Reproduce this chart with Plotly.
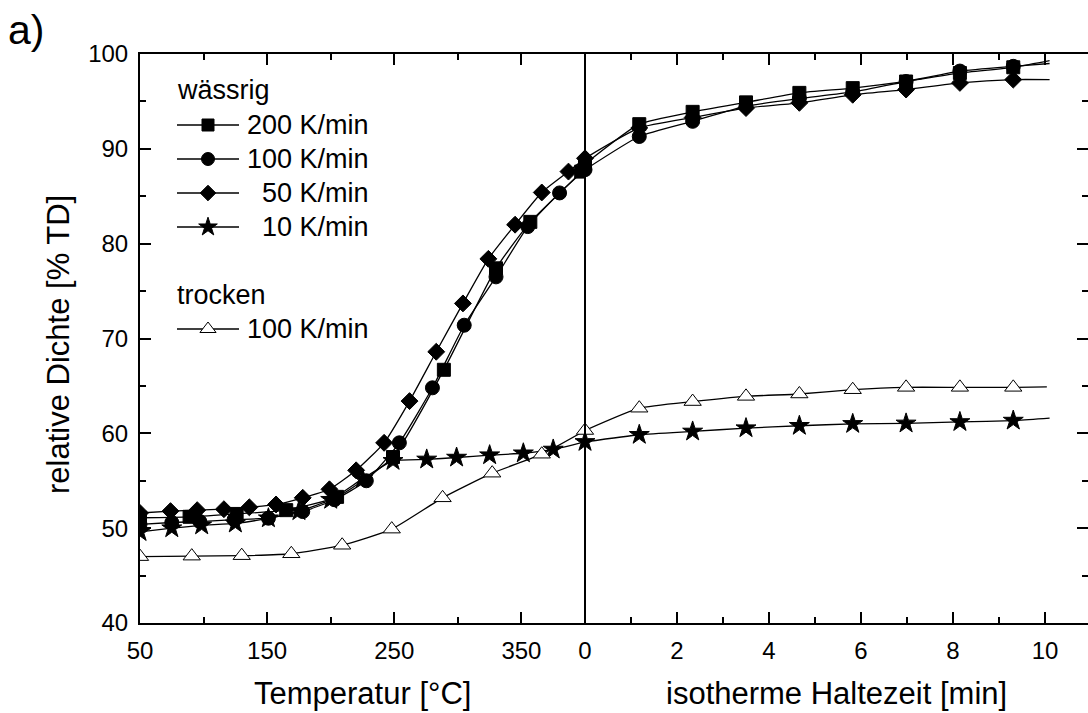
import plotly.graph_objects as go

# ---------------- data ----------------
# Heating segment: temperature in °C ; isothermal segment: holding time in min
# wässrig 200 K/min (squares)
T_200 = [50, 89, 126, 165, 205, 249, 289, 330, 357, 397, 400]
D_200 = [51.1, 51.2, 51.5, 51.9, 53.3, 57.5, 66.7, 77.4, 82.3, 87.6, 88.4]
t_200 = [0, 1.18, 2.34, 3.5, 4.66, 5.82, 6.98, 8.15, 9.31, 10.1]
H_200 = [88.4, 92.6, 93.9, 94.9, 95.9, 96.4, 97.1, 98.0, 98.6, 99.3]

# wässrig 100 K/min (circles)
T_100 = [50, 75, 97, 124, 151, 178, 203, 228, 254, 280, 305, 330, 355, 380, 400]
D_100 = [50.4, 50.6, 50.7, 50.9, 51.05, 51.75, 53.0, 55.0, 59.0, 64.8, 71.4, 76.5, 81.8, 85.35, 87.8]
t_100 = [0, 1.18, 2.34, 3.5, 4.66, 5.82, 6.98, 8.15, 9.31, 10.1]
H_100 = [87.8, 91.3, 92.9, 94.5, 95.3, 96.0, 97.1, 98.2, 98.7, 99.0]

# wässrig 50 K/min (diamonds)
T_50 = [50, 74, 95, 116, 136, 157, 178, 199, 220, 242, 262, 283, 304, 324, 345, 366, 387, 400]
D_50 = [51.6, 51.8, 51.9, 52.0, 52.2, 52.5, 53.2, 54.1, 56.1, 59.0, 63.4, 68.6, 73.7, 78.4, 82.0, 85.4, 87.6, 89.0]
t_50 = [0, 1.18, 2.34, 3.5, 4.66, 5.82, 6.98, 8.15, 9.31, 10.1]
H_50 = [89.0, 92.2, 93.3, 94.3, 94.85, 95.7, 96.25, 96.95, 97.3, 97.3]

# wässrig 10 K/min (stars)
T_10 = [50, 75, 98.5, 125, 151, 175, 200, 225, 249, 275.5, 299, 325, 351.5, 375, 400]
D_10 = [49.6, 50.0, 50.3, 50.5, 51.05, 51.8, 53.0, 55.2, 57.1, 57.25, 57.45, 57.7, 57.9, 58.3, 59.1]
t_10 = [0, 1.18, 2.34, 3.5, 4.66, 5.82, 6.98, 8.15, 9.31, 10.1]
H_10 = [59.1, 59.85, 60.2, 60.55, 60.8, 61.0, 61.05, 61.2, 61.35, 61.6]

# trocken 100 K/min (open triangles)
T_tr = [50, 90.7, 130, 169, 209, 248, 288, 327, 366, 400]
D_tr = [47.0, 47.05, 47.1, 47.3, 48.2, 49.9, 53.2, 55.8, 57.8, 60.3]
t_tr = [0, 1.18, 2.34, 3.5, 4.66, 5.82, 6.98, 8.15, 9.31, 10.04]
H_tr = [60.3, 62.65, 63.35, 63.9, 64.15, 64.6, 64.85, 64.85, 64.85, 64.9]

legend_heads = ["wässrig", "trocken"]
legend_labels = ["200 K/min", "100 K/min", "50 K/min", "10 K/min", "100 K/min"]

# ---------------- layout constants ----------------
W, H = 1088, 713
L, R, TOP, BOT = 140, 0, 54, 90
PW, PH = W - L - R, H - TOP - BOT
SPLIT_PX = 585
D = (SPLIT_PX - L) / PW
FONT = "Liberation Sans, Arial, sans-serif"

series = [
    dict(T=T_200, D=D_200, t=t_200, H=H_200, sym="square", size=13, fill="black"),
    dict(T=T_100, D=D_100, t=t_100, H=H_100, sym="circle", size=14, fill="black"),
    dict(T=T_50, D=D_50, t=t_50, H=H_50, sym="diamond", size=13, fill="black"),
    dict(T=T_10, D=D_10, t=t_10, H=H_10, sym="star", size=15, fill="black"),
    dict(T=T_tr, D=D_tr, t=t_tr, H=H_tr, sym="triangle-up", size=15, fill="white"),
]

fig = go.Figure()
for s in series:
    mk = dict(symbol=s["sym"], size=s["size"], color=s["fill"],
              line=dict(color="black", width=1))
    ln = dict(color="black", width=1.3, shape="spline", smoothing=0.5)
    fig.add_trace(go.Scatter(x=s["T"], y=s["D"], mode="lines+markers",
                             line=ln, marker=mk, xaxis="x", yaxis="y",
                             showlegend=False, hoverinfo="skip"))
    fig.add_trace(go.Scatter(x=s["t"], y=s["H"], mode="lines", line=ln,
                             xaxis="x2", yaxis="y", showlegend=False,
                             hoverinfo="skip"))
    fig.add_trace(go.Scatter(x=s["t"][:-1], y=s["H"][:-1], mode="markers",
                             marker=mk, xaxis="x2", yaxis="y",
                             showlegend=False, hoverinfo="skip"))

# invisible trace so that the right-hand tick axis exists
fig.add_trace(go.Scatter(x=[0], y=[40], mode="markers", marker=dict(opacity=0),
                         xaxis="x2", yaxis="y2", showlegend=False, hoverinfo="skip"))

# ---------------- hand-made legend (pixel layout) ----------------
def px(xp):
    return (xp - L) / PW

def py(yp):
    return (H - BOT - yp) / PH

legend_rows = [125, 159, 193, 227, 329]
for s, yrow in zip(series, legend_rows):
    mk = dict(symbol=s["sym"], size=s["size"] - 1, color=s["fill"],
              line=dict(color="black", width=1))
    fig.add_trace(go.Scatter(x=[px(177), px(239)], y=[py(yrow), py(yrow)],
                             mode="lines", line=dict(color="black", width=1.3),
                             xaxis="x3", yaxis="y3", showlegend=False,
                             hoverinfo="skip"))
    fig.add_trace(go.Scatter(x=[px(208)], y=[py(yrow)], mode="markers",
                             marker=mk, xaxis="x3", yaxis="y3",
                             showlegend=False, hoverinfo="skip"))

annotations = []
for lab, yrow in zip(legend_labels, legend_rows):
    annotations.append(dict(text=lab, x=px(371), y=py(yrow), xref="paper",
                            yref="paper", xanchor="right", yanchor="middle",
                            showarrow=False, font=dict(size=27)))
for head, yrow in zip(legend_heads, [90, 295]):
    annotations.append(dict(text=head, x=px(175), y=py(yrow), xref="paper",
                            yref="paper", xanchor="left", yanchor="middle",
                            showarrow=False, font=dict(size=27)))

# axis titles and panel label
annotations += [
    dict(text="Temperatur [°C]", x=D / 2, y=py(693), xref="paper", yref="paper",
         xanchor="center", yanchor="middle", showarrow=False, font=dict(size=31)),
    dict(text="isotherme Haltezeit [min]", x=(D + 1) / 2, y=py(693), xref="paper",
         yref="paper", xanchor="center", yanchor="middle", showarrow=False,
         font=dict(size=31)),
    dict(text="relative Dichte [% TD]", x=px(58), y=py(345), xref="paper",
         yref="paper", xanchor="center", yanchor="middle", textangle=-90,
         showarrow=False, font=dict(size=31)),
    dict(text="a)", x=px(6), y=py(30), xref="paper", yref="paper",
         xanchor="left", yanchor="middle", showarrow=False, font=dict(size=41)),
]

axis_common = dict(ticks="inside", ticklen=11, tickwidth=1.5, tickcolor="black",
                   showline=True, linewidth=2, linecolor="black",
                   showgrid=False, zeroline=False, tickfont=dict(size=24),
                   ticklabelstandoff=5)

fig.update_layout(
    width=W, height=H, autosize=False,
    margin=dict(l=L, r=R, t=TOP, b=BOT, pad=0),
    paper_bgcolor="white", plot_bgcolor="rgba(0,0,0,0)",
    font=dict(family=FONT, color="black", size=24),
    showlegend=False,
    xaxis=dict(domain=[0, D], range=[50, 400], tickmode="linear", tick0=50,
               dtick=100, anchor="y", mirror="ticks",
               minor=dict(ticks="inside", ticklen=6, tickwidth=1.5,
                          tickcolor="black", tick0=50, dtick=50),
               **axis_common),
    xaxis2=dict(domain=[D, 1], range=[0, (W - R - SPLIT_PX) / 46.0],
                tickmode="linear", tick0=0, dtick=2, anchor="y", mirror="ticks",
                minor=dict(ticks="inside", ticklen=6, tickwidth=1.5,
                           tickcolor="black", tick0=0, dtick=1),
                **axis_common),
    yaxis=dict(domain=[0, 1], range=[40, 100], tickmode="linear", tick0=40,
               dtick=10, anchor="x",
               minor=dict(ticks="inside", ticklen=6, tickwidth=1.5,
                          tickcolor="black", tick0=40, dtick=5),
               **axis_common),
    yaxis2=dict(overlaying="y", anchor="x2", side="right", range=[40, 100],
                tickmode="linear", tick0=40, dtick=10, ticks="inside",
                ticklen=11, tickwidth=1.5, tickcolor="black",
                showticklabels=False, showline=False, showgrid=False,
                zeroline=False,
                minor=dict(ticks="inside", ticklen=6, tickwidth=1.5,
                           tickcolor="black", tick0=40, dtick=5)),
    xaxis3=dict(domain=[0, 1], range=[0, 1], anchor="y3", visible=False),
    yaxis3=dict(domain=[0, 1], range=[0, 1], anchor="x3", visible=False),
    shapes=[dict(type="line", xref="paper", yref="paper", x0=D, x1=D, y0=0,
                 y1=1, line=dict(color="black", width=2))],
    annotations=annotations,
)

fig.write_html("out.html")
